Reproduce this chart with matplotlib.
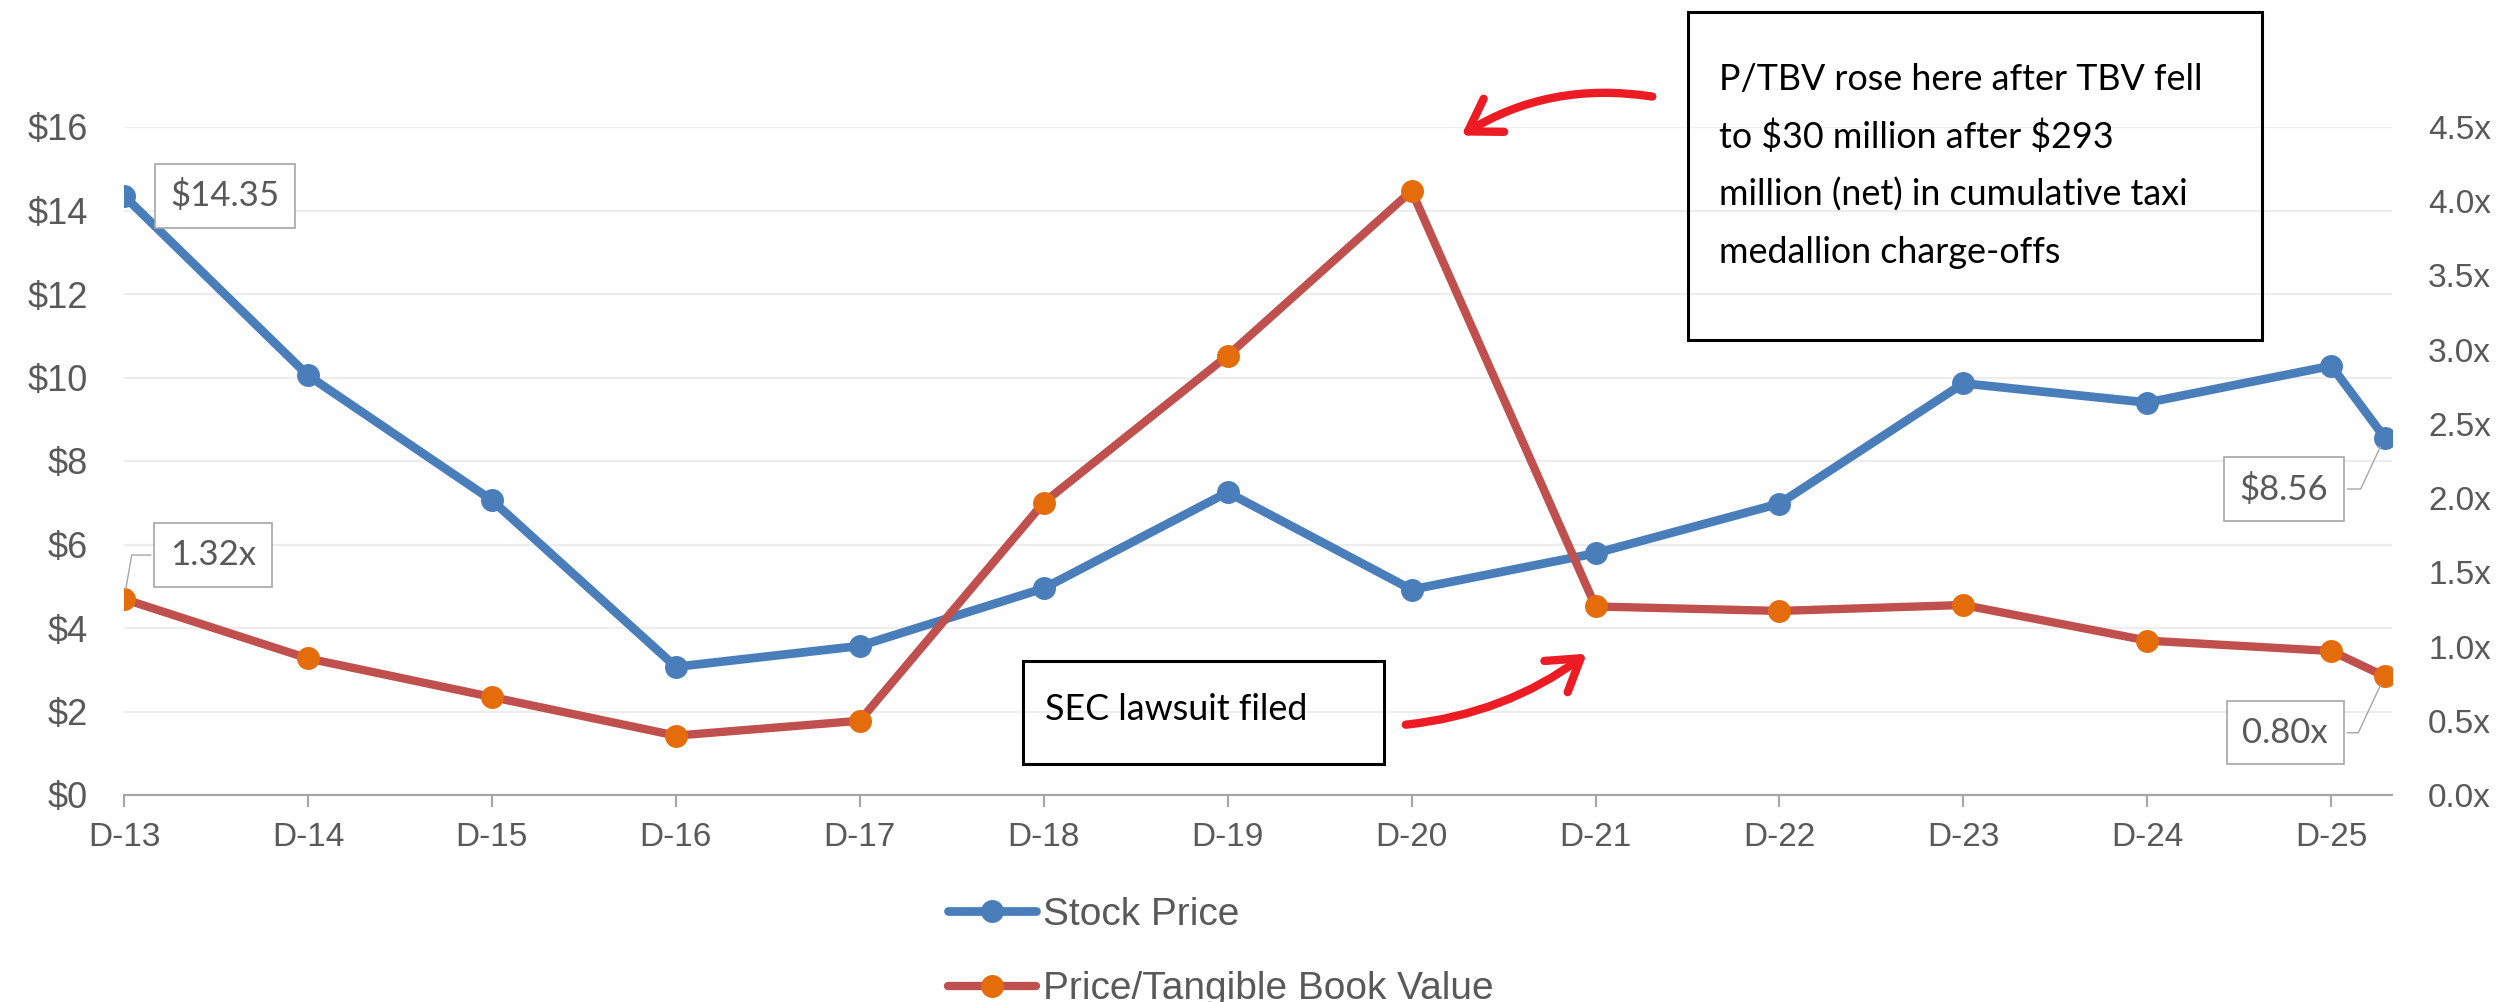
import matplotlib
matplotlib.use("Agg")
from matplotlib import pyplot as plt
from matplotlib.patches import Rectangle, FancyArrowPatch
import numpy as np

# periods (last point is a partial period after D-25)
periods = ["D-13", "D-14", "D-15", "D-16", "D-17", "D-18", "D-19",
           "D-20", "D-21", "D-22", "D-23", "D-24", "D-25"]
x_vals = [0, 1, 2, 3, 4, 5, 6, 7, 8, 9, 10, 11, 12, 12.29]
stock_price = [14.35, 10.05, 7.06, 3.07, 3.57, 4.95, 7.25,
               4.92, 5.79, 6.98, 9.86, 9.40, 10.28, 8.56]
p_tbv = [1.32, 0.92, 0.66, 0.40, 0.50, 1.97, 2.96,
         4.07, 1.27, 1.24, 1.28, 1.04, 0.97, 0.80]
left_ticks = [0, 2, 4, 6, 8, 10, 12, 14, 16]
right_ticks = [0, 0.5, 1.0, 1.5, 2.0, 2.5, 3.0, 3.5, 4.0, 4.5]
note_lines = ["P/TBV rose here after TBV fell",
              "to $30 million after $293",
              "million (net) in cumulative taxi",
              "medallion charge-offs"]

W, H = 2504, 1002
GRAY = "#595959"
BLUE = "#4a7ebb"
RED = "#c0504d"
ORANGE = "#e46c0a"
ARROW_RED = "#ed1c24"
NOTE_FONT = ["Lato", "DejaVu Sans"]

plt.rcParams['font.family'] = ['Liberation Sans', 'DejaVu Sans']
plt.rcParams['text.parse_math'] = False


def fx(px):
    return px / W


def fy(py):
    return 1 - py / H


fig = plt.figure(figsize=(W / 100, H / 100), dpi=100)
ax = fig.add_axes([fx(124), fy(795), fx(2392 - 124), (795 - 127) / H])
ax2 = ax.twinx()

# lines
l1, = ax.plot(x_vals, stock_price, color=BLUE, lw=6.3, marker='o',
              markersize=15.5, markerfacecolor=BLUE, markeredgecolor=BLUE,
              label="Stock Price", solid_capstyle='round', zorder=3)
l2, = ax2.plot(x_vals, p_tbv, color=RED, lw=6.0, marker='o',
               markersize=15.5, markerfacecolor=ORANGE, markeredgecolor=ORANGE,
               label="Price/Tangible Book Value", solid_capstyle='round', zorder=3)

# axes
ax.set_xlim(0, 12.33)
ax.set_ylim(0, 16)
ax2.set_ylim(0, 4.5)
ax.set_xticks(range(len(periods)))
ax.set_xticklabels(periods)
ax.set_yticks(left_ticks)
ax.set_yticklabels(["$%d" % v for v in left_ticks])
ax2.set_yticks(right_ticks)
ax2.set_yticklabels(["%.1fx" % v for v in right_ticks])

ax.grid(axis='y', color='#ededed', lw=1.6)
ax.set_axisbelow(True)
for s in ["top", "left", "right"]:
    ax.spines[s].set_visible(False)
for s in ["top", "left", "right", "bottom"]:
    ax2.spines[s].set_visible(False)
ax.spines["bottom"].set_color("#a6a6a6")
ax.spines["bottom"].set_linewidth(1.6)

ax.tick_params(axis='x', length=8.6, width=1.5, color='#a6a6a6', pad=11,
               labelsize=24, labelcolor=GRAY)
ax.tick_params(axis='y', length=0, pad=26, labelsize=26, labelcolor=GRAY)
ax2.tick_params(axis='y', length=0, pad=26, labelsize=24, labelcolor=GRAY)

# data labels
box = dict(boxstyle="square,pad=0.45", fc="white", ec="#a6a6a6", lw=1.2)
lead = dict(arrowstyle='-', color="#a6a6a6", lw=1.0, shrinkB=7)
ax.annotate("$%.2f" % stock_price[0], (x_vals[0], stock_price[0]),
            xytext=(72.7, 0), textcoords='offset points', ha='center', va='center',
            fontsize=25, color=GRAY, family=NOTE_FONT, bbox=box, zorder=5)
ax2.annotate("%.2fx" % p_tbv[0], (x_vals[0], p_tbv[0]),
             xytext=(64, 31.7), textcoords='offset points', ha='center', va='center',
             fontsize=25, color=GRAY, family=NOTE_FONT, bbox=box, zorder=5,
             arrowprops=dict(lead, connectionstyle="angle,angleA=0,angleB=80"))
ax.annotate("$%.2f" % stock_price[-1], (x_vals[-1], stock_price[-1]),
            xytext=(-72.4, -37), textcoords='offset points', ha='center', va='center',
            fontsize=25, color=GRAY, family=NOTE_FONT, bbox=box, zorder=5,
            arrowprops=dict(lead, connectionstyle="angle,angleA=0,angleB=65"))
ax2.annotate("%.2fx" % p_tbv[-1], (x_vals[-1], p_tbv[-1]),
             xytext=(-71.6, -40.7), textcoords='offset points', ha='center', va='center',
             fontsize=25, color=GRAY, family=NOTE_FONT, bbox=box, zorder=5,
             arrowprops=dict(lead, connectionstyle="angle,angleA=0,angleB=65"))

# legend
fig.legend(handles=[l1, l2], loc='upper left', bbox_to_anchor=(fx(948), fy(897)),
           frameon=False, fontsize=28, labelcolor=GRAY, handlelength=2.25,
           handletextpad=0.2, labelspacing=0.98, borderpad=0, borderaxespad=0)

# note boxes
fig.patches.append(Rectangle((fx(1688), fy(340)), fx(2262 - 1688), (340 - 12) / H,
                             transform=fig.transFigure, fill=False, ec='black', lw=2.2))
for i, line in enumerate(note_lines):
    fig.text(fx(1719), fy(90 + 57.7 * i), line, fontsize=25.8, family=NOTE_FONT,
             va='baseline', ha='left')
fig.patches.append(Rectangle((fx(1023), fy(764)), fx(1384 - 1023), (764 - 661) / H,
                             transform=fig.transFigure, fill=False, ec='black', lw=2.2))
fig.text(fx(1045), fy(710), "SEC lawsuit filed", fontsize=25.8, family=NOTE_FONT,
         va='center', ha='left')

# red arrows
for start, end, rad in [((1655, 97), (1459, 137), 0.19),
                        ((1403, 725), (1589, 652), 0.14)]:
    arr = FancyArrowPatch((fx(start[0]), fy(start[1])), (fx(end[0]), fy(end[1])),
                          transform=fig.transFigure,
                          connectionstyle="arc3,rad=%.2f" % rad,
                          arrowstyle="->,head_length=0.55,head_width=0.35",
                          mutation_scale=40, color=ARROW_RED, lw=6,
                          capstyle='round', joinstyle='round')
    fig.patches.append(arr)

fig.savefig("out.png", dpi=100)
